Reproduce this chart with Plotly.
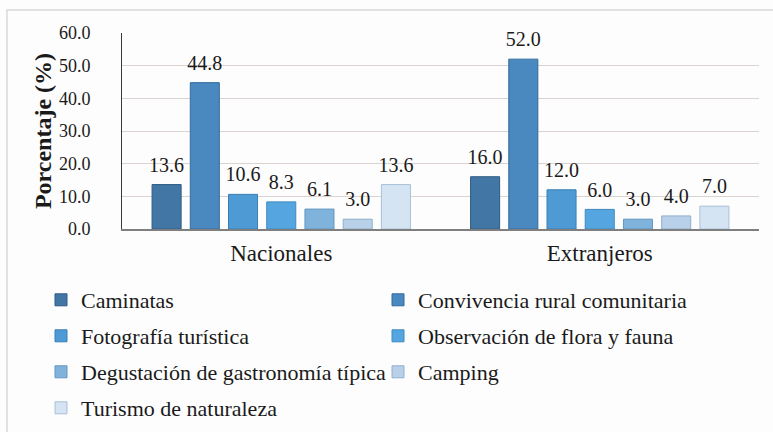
import plotly.graph_objects as go

categories = ["Nacionales", "Extranjeros"]
series_names = [
    "Caminatas",
    "Convivencia rural comunitaria",
    "Fotografía turística",
    "Observación de flora y fauna",
    "Degustación de gastronomía típica",
    "Camping",
    "Turismo de naturaleza",
]
caminatas = [13.6, 16.0]
convivencia = [44.8, 52.0]
fotografia = [10.6, 12.0]
observacion = [8.3, 6.0]
degustacion = [6.1, 3.0]
camping = [3.0, 4.0]
turismo = [13.6, 7.0]
series_values = [caminatas, convivencia, fotografia, observacion, degustacion, camping, turismo]
y_ticks = [0, 10, 20, 30, 40, 50, 60]
y_tick_labels = ["0.0", "10.0", "20.0", "30.0", "40.0", "50.0", "60.0"]

colors = ["#4277a5", "#4a88c0", "#4e9ad4", "#55a6e0", "#80b3dc", "#b8d1e8", "#d4e4f2"]
line_colors = ["#2f5b82", "#336b9c", "#3a7fb4", "#3f89bf", "#6496c0", "#90b0cc", "#a9c0d6"]
legends = ["legend", "legend", "legend2", "legend2", "legend3", "legend3", "legend4"]

SERIF = "Liberation Serif"

fig = go.Figure()
for i, (name, vals, c, lc, lg) in enumerate(zip(series_names, series_values, colors, line_colors, legends)):
    fig.add_trace(go.Bar(
        name=name, x=categories, y=vals,
        marker=dict(color=c, line=dict(color=lc, width=1)),
        offsetgroup=str(i), legend=lg,
    ))
# data labels as grouped text-only scatter traces (aligned with the bars)
for i, (name, vals) in enumerate(zip(series_names, series_values)):
    fig.add_trace(go.Scatter(
        name=name + " (etiqueta)", x=categories, y=vals, mode="markers+text",
        marker=dict(size=11, color="rgba(0,0,0,0)"),
        text=[f"{v:.1f}" for v in vals], textposition="top center",
        textfont=dict(family=SERIF, size=20, color="#1a1a1a"),
        offsetgroup=str(i), showlegend=False, cliponaxis=False, hoverinfo="skip",
    ))

W, H = 773, 432
ml, mr, mt, mb = 122, 14, 33, 203
pw, ph = W - ml - mr, H - mt - mb

def px_to_paper_y(Y):
    return (H - mb - Y) / ph

def px_to_paper_x(X):
    return (X - ml) / pw

leg_common = dict(orientation="h", font=dict(family=SERIF, size=22, color="#1a1a1a"),
                  entrywidth=292, entrywidthmode="pixels", bgcolor="rgba(0,0,0,0)",
                  xanchor="left", yanchor="middle", itemclick=False, traceorder="normal")
legx = px_to_paper_x(41)
layout_legends = {}
for key, Y in zip(["legend", "legend2", "legend3", "legend4"], [300, 336, 372, 408]):
    layout_legends[key] = dict(leg_common, x=legx, y=px_to_paper_y(Y))

fig.update_layout(
    width=W, height=H,
    margin=dict(l=ml, r=mr, t=mt, b=mb, autoexpand=False),
    paper_bgcolor="#fdfdfd", plot_bgcolor="#fdfdfd",
    barmode="group", bargap=0.16, bargroupgap=0.24,
    scattermode="group", scattergap=0.16,
    font=dict(family=SERIF, color="#1a1a1a"),
    xaxis=dict(showline=True, linecolor="#7f7f7f", linewidth=1.5, ticks="", automargin=False,
               ticklabelstandoff=3,
               tickfont=dict(family=SERIF, size=23, color="#1a1a1a")),
    yaxis=dict(range=[0, 60], tickvals=y_ticks, ticktext=y_tick_labels, automargin=False,
               showgrid=True, gridcolor="#dbd3cf", gridwidth=1.2,
               showline=True, linecolor="#3a3a3a", linewidth=1, ticks="",
               ticklabelstandoff=27,
               zeroline=False,
               tickfont=dict(family=SERIF, size=18, color="#1a1a1a"),
               title=dict(text="<b>Porcentaje (%)</b>", font=dict(family=SERIF, size=24, color="#1a1a1a"),
                          standoff=0)),
    showlegend=True,
    shapes=[dict(type="rect", xref="paper", yref="paper",
                 x0=px_to_paper_x(7), x1=px_to_paper_x(790),
                 y0=px_to_paper_y(450), y1=px_to_paper_y(10),
                 line=dict(color="#d9d9d9", width=1.5), fillcolor="rgba(0,0,0,0)", layer="below")],
    **layout_legends,
)

fig.write_html("out.html", config={"displayModeBar": False},
               post_script="document.body.style.margin='0px';document.body.style.background='#fdfdfd';")
